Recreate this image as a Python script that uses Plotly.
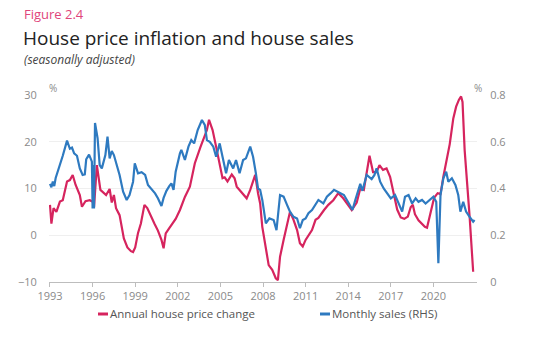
import plotly.graph_objects as go

# ---- data ----
hp_years = [1993.0, 1993.1, 1993.25, 1993.45, 1993.7, 1993.9, 1994.2, 1994.4, 1994.6, 1994.8,
            1995.1, 1995.25, 1995.5, 1995.8, 1996.05, 1996.1, 1996.3, 1996.55, 1996.95, 1997.2,
            1997.35, 1997.5, 1997.65, 1997.9, 1998.2, 1998.45, 1998.7, 1998.85, 1999.0, 1999.2,
            1999.4, 1999.65, 1999.85, 2000.1, 2000.35, 2000.6, 2000.85, 2001.0, 2001.15, 2001.4,
            2001.6, 2001.85, 2002.15, 2002.5, 2002.85, 2003.2, 2003.6, 2003.85, 2004.05, 2004.2,
            2004.45, 2004.7, 2004.95, 2005.15, 2005.3, 2005.5, 2005.8, 2006.0, 2006.15, 2006.35,
            2006.6, 2006.85, 2007.1, 2007.3, 2007.45, 2007.65, 2007.8, 2007.95, 2008.2, 2008.4,
            2008.65, 2008.9, 2009.05, 2009.2, 2009.45, 2009.7, 2009.9, 2010.15, 2010.4, 2010.6,
            2010.8, 2011.0, 2011.2, 2011.45, 2011.7, 2011.9, 2012.3, 2012.6, 2012.95, 2013.3,
            2013.65, 2014.0, 2014.25, 2014.6, 2014.85, 2015.1, 2015.3, 2015.5, 2015.75, 2016.0,
            2016.2, 2016.45, 2016.7, 2016.95, 2017.2, 2017.45, 2017.7, 2017.95, 2018.2, 2018.4,
            2018.55, 2018.7, 2018.95, 2019.15, 2019.4, 2019.55, 2019.8, 2020.05, 2020.3, 2020.5,
            2020.7, 2020.9, 2021.15, 2021.4, 2021.6, 2021.8, 2021.95, 2022.05, 2022.2, 2022.55,
            2022.8]
hp_change = [6.5, 2.5, 5.8, 5.0, 7.2, 7.5, 11.5, 11.8, 12.9, 10.8,
             8.6, 6.1, 7.3, 7.5, 7.1, 6.0, 15.0, 9.7, 8.6, 9.9,
             7.0, 8.6, 5.8, 4.3, -0.7, -2.6, -3.4, -3.6, -2.6, 0.5,
             2.5, 6.5, 5.8, 4.0, 2.5, 1.0, -1.0, -2.8, 0.4, 1.5,
             2.5, 3.5, 5.4, 8.2, 10.4, 15.4, 18.9, 21.1, 22.5, 24.7,
             22.5, 18.9, 15.0, 12.2, 12.4, 11.5, 13.0, 12.2, 10.4, 9.7,
             9.0, 7.9, 9.7, 11.8, 12.9, 9.0, 6.8, 1.8, -3.2, -6.4,
             -7.4, -9.2, -9.6, -4.6, -1.0, 2.5, 5.0, 3.3, 1.1, -1.7,
             -2.4, -1.0, 0.0, 1.1, 3.3, 3.7, 5.4, 6.5, 7.5, 9.0,
             7.9, 6.5, 5.4, 7.0, 10.0, 9.7, 13.3, 17.0, 13.5, 13.5,
             15.0, 14.0, 14.3, 12.5, 9.0, 5.5, 3.8, 3.5, 4.0, 6.0,
             6.5, 4.5, 3.2, 2.5, 1.8, 1.6, 4.8, 8.0, 9.0, 8.8,
             12.5, 15.4, 19.5, 25.0, 27.5, 29.0, 29.7, 28.5, 18.2, 4.0,
             -7.8]

sales_years = [1993.0, 1993.1, 1993.2, 1993.3, 1993.4, 1993.7, 1993.9, 1994.2, 1994.4, 1994.55,
               1994.7, 1994.9, 1995.1, 1995.3, 1995.45, 1995.55, 1995.75, 1995.95, 1996.0, 1996.05,
               1996.1, 1996.17, 1996.35, 1996.5, 1996.65, 1996.9, 1997.05, 1997.2, 1997.35, 1997.5,
               1997.7, 1997.9, 1998.15, 1998.4, 1998.6, 1998.85, 1998.97, 1999.2, 1999.45, 1999.7,
               1999.9, 2000.2, 2000.4, 2000.6, 2000.85, 2001.0, 2001.2, 2001.4, 2001.55, 2001.7,
               2001.85, 2002.15, 2002.25, 2002.5, 2002.75, 2002.95, 2003.15, 2003.4, 2003.7, 2003.9,
               2004.05, 2004.25, 2004.5, 2004.7, 2004.95, 2005.15, 2005.4, 2005.6, 2005.9, 2006.1,
               2006.35, 2006.6, 2006.8, 2007.1, 2007.3, 2007.5, 2007.65, 2007.8, 2007.95, 2008.2,
               2008.45, 2008.75, 2008.95, 2009.2, 2009.45, 2009.7, 2009.9, 2010.15, 2010.4, 2010.6,
               2010.8, 2011.0, 2011.2, 2011.45, 2011.7, 2011.9, 2012.25, 2012.5, 2012.75, 2013.0,
               2013.25, 2013.5, 2013.7, 2014.05, 2014.3, 2014.5, 2014.7, 2014.85, 2015.0, 2015.3,
               2015.65, 2015.85, 2016.0, 2016.25, 2016.5, 2016.75, 2017.0, 2017.3, 2017.55, 2017.8,
               2018.0, 2018.25, 2018.5, 2018.75, 2018.95, 2019.2, 2019.45, 2019.7, 2020.0, 2020.2,
               2020.35, 2020.5, 2020.7, 2020.9, 2021.05, 2021.3, 2021.55, 2021.75, 2021.9, 2022.1,
               2022.3, 2022.55, 2022.8, 2022.9]
monthly_sales = [0.42, 0.405, 0.43, 0.41, 0.445, 0.50, 0.54, 0.605, 0.57, 0.575,
                 0.55, 0.54, 0.486, 0.458, 0.46, 0.525, 0.545, 0.515, 0.315, 0.50,
                 0.315, 0.68, 0.615, 0.50, 0.486, 0.543, 0.622, 0.529, 0.56, 0.543,
                 0.50, 0.458, 0.386, 0.351, 0.372, 0.429, 0.508, 0.465, 0.47, 0.458,
                 0.415, 0.394, 0.379, 0.358, 0.325, 0.36, 0.39, 0.41, 0.422, 0.394,
                 0.472, 0.55, 0.565, 0.522, 0.579, 0.607, 0.593, 0.650, 0.693, 0.672,
                 0.607, 0.60, 0.579, 0.536, 0.593, 0.536, 0.465, 0.522, 0.486, 0.522,
                 0.465, 0.522, 0.529, 0.579, 0.536, 0.465, 0.40, 0.394, 0.351, 0.251,
                 0.272, 0.265, 0.222, 0.372, 0.365, 0.329, 0.301, 0.279, 0.272, 0.230,
                 0.265, 0.272, 0.294, 0.308, 0.329, 0.351, 0.336, 0.365, 0.379, 0.394,
                 0.386, 0.379, 0.372, 0.336, 0.308, 0.351, 0.394, 0.42, 0.39, 0.458,
                 0.44, 0.458, 0.486, 0.429, 0.40, 0.379, 0.358, 0.372, 0.336, 0.301,
                 0.365, 0.372, 0.336, 0.358, 0.343, 0.351, 0.336, 0.351, 0.365, 0.343,
                 0.08, 0.372, 0.444, 0.472, 0.429, 0.444, 0.415, 0.372, 0.301, 0.343,
                 0.301, 0.279, 0.258, 0.265]

x_ticks = [1993, 1996, 1999, 2002, 2005, 2008, 2011, 2014, 2017, 2020]
left_ticks = [-10, 0, 10, 20, 30]
right_ticks = [0, 0.2, 0.4, 0.6, 0.8]
legend_names = ["Annual house price change", "Monthly sales (RHS)"]

RED = "#D6245E"
BLUE = "#2E7AC0"
PINK = "#E0457B"
FONT = "Open Sans"
TICK_GREY = "#8a8a8a"

fig = go.Figure()
fig.add_trace(go.Scatter(x=hp_years, y=hp_change, mode="lines", name=legend_names[0],
                         line=dict(color=RED, width=2.2), yaxis="y"))
fig.add_trace(go.Scatter(x=sales_years, y=monthly_sales, mode="lines", name=legend_names[1],
                         line=dict(color=BLUE, width=2.2), yaxis="y2"))

fig.update_layout(
    width=540, height=337,
    margin=dict(l=49, r=63, t=95, b=55),
    paper_bgcolor="white", plot_bgcolor="white",
    showlegend=False,
    font=dict(family=FONT, color=TICK_GREY, size=11),
    xaxis=dict(range=[1992.93, 2023.07], tickvals=x_ticks, ticktext=[str(t) for t in x_ticks],
               showgrid=False, zeroline=False, showline=True, linecolor="#bdbdbd", linewidth=1,
               ticks="outside", ticklen=4, tickcolor="#bdbdbd",
               tickfont=dict(family=FONT, size=11, color=TICK_GREY)),
    yaxis=dict(range=[-10, 30], tickvals=left_ticks, showgrid=True, gridcolor="#efefef",
               gridwidth=1, zeroline=False, showline=False, ticks="outside", ticklen=9,
               tickcolor="rgba(0,0,0,0)", tickfont=dict(family=FONT, size=11, color=TICK_GREY)),
    yaxis2=dict(range=[0, 0.8], tickvals=right_ticks, ticktext=["0", "0.2", "0.4", "0.6", "0.8"],
                overlaying="y", side="right", showgrid=False, zeroline=False, showline=False,
                ticks="outside", ticklen=10, tickcolor="rgba(0,0,0,0)",
                tickfont=dict(family=FONT, size=11, color=TICK_GREY)),
)

annotations = [
    dict(text="Figure 2.4", x=22, y=337 - 14, font=dict(family=FONT, size=13, color=PINK)),
    dict(text="House price inflation and house sales", x=21, y=337 - 38,
         font=dict(family=FONT, size=19, color="#222222")),
    dict(text="<i>(seasonally adjusted)</i>", x=22, y=337 - 60,
         font=dict(family=FONT, size=12, color="#444444")),
    dict(text="%", x=47, y=337 - 88, font=dict(family=FONT, size=10, color=TICK_GREY)),
    dict(text="%", x=472, y=337 - 88, font=dict(family=FONT, size=10, color=TICK_GREY)),
    dict(text=legend_names[0], x=108, y=337 - 313, font=dict(family=FONT, size=11.5, color="#555555")),
    dict(text=legend_names[1], x=330, y=337 - 313, font=dict(family=FONT, size=11.5, color="#555555")),
]
for a in annotations:
    fig.add_annotation(text=a["text"], xref="paper", yref="paper",
                       x=(a["x"] - 49) / 428, y=(a["y"] - 55) / 187,
                       xanchor="left", yanchor="middle", showarrow=False, font=a["font"])

for x0, col in [(98, RED), (320, BLUE)]:
    fig.add_shape(type="line", xref="paper", yref="paper",
                  x0=(x0 - 49) / 428, x1=(x0 + 10 - 49) / 428,
                  y0=(337 - 314 - 55) / 187, y1=(337 - 314 - 55) / 187,
                  line=dict(color=col, width=3))

fig.write_html("out.html")
